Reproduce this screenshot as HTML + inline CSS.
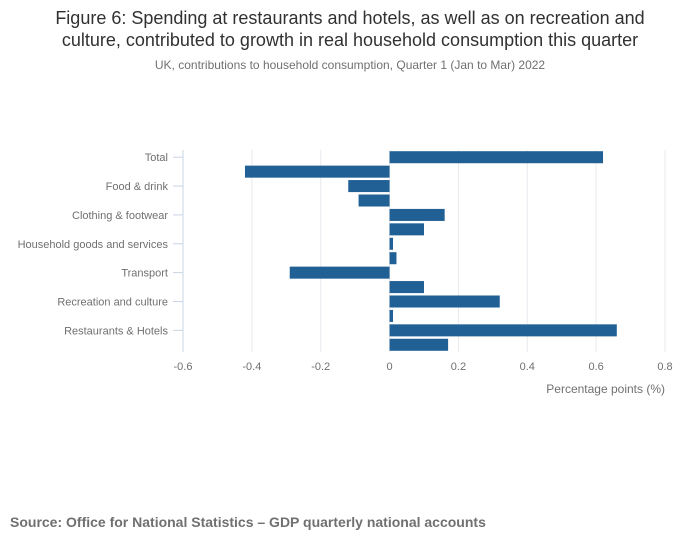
<!DOCTYPE html>
<html><head><meta charset="utf-8"><style>
body{margin:0;background:#fff;font-family:"Liberation Sans","DejaVu Sans",sans-serif;}
#wrap{position:relative;width:700px;height:549px;overflow:hidden;}
</style></head><body>
<div id="wrap">
<svg id="chart" width="700" height="549">
<text x="350" y="24" text-anchor="middle" font-size="18" fill="#323132">Figure 6: Spending at restaurants and hotels, as well as on recreation and</text>
<text x="350" y="46" text-anchor="middle" font-size="18" fill="#323132">culture, contributed to growth in real household consumption this quarter</text>
<text x="350" y="69" text-anchor="middle" font-size="12" fill="#707070">UK, contributions to household consumption, Quarter 1 (Jan to Mar) 2022</text>
<g id="grid"></g><g id="bars"></g><g id="labels"></g>
<text x="665" y="393" text-anchor="end" font-size="12" fill="#707070">Percentage points (%)</text>
<text x="10" y="527" font-size="14" font-weight="bold" fill="#707070">Source: Office for National Statistics – GDP quarterly national accounts</text>
</svg></div>
<script>
const categories=["Total","Alcohol & tobacco","Food & drink","Housing","Clothing & footwear","Health","Household goods and services","Communication","Transport","Education","Recreation and culture","Miscellaneous","Restaurants & Hotels","Net tourism"];
const values=[0.62,-0.42,-0.12,-0.09,0.16,0.10,0.01,0.02,-0.29,0.10,0.32,0.01,0.66,0.17];
const ticks=[-0.6,-0.4,-0.2,0,0.2,0.4,0.6,0.8];
const tickLabels=["-0.6","-0.4","-0.2","0","0.2","0.4","0.6","0.8"];
const NS="http://www.w3.org/2000/svg";
const x0=183,x1=665,vmin=-0.6,vmax=0.8,plotTop=150,plotBottom=352;
const xs=v=>x0+(v-vmin)/(vmax-vmin)*(x1-x0);
const step=(plotBottom-plotTop)/categories.length;
const ys=i=>plotTop+i*step;
function mk(t,a,p){const e=document.createElementNS(NS,t);for(const k in a)e.setAttribute(k,a[k]);p.appendChild(e);return e;}
const grid=document.getElementById('grid'),bars=document.getElementById('bars'),labels=document.getElementById('labels');
ticks.forEach((t,i)=>{
 const l=mk('line',{x1:xs(t),x2:xs(t),y1:plotTop,y2:plotBottom,stroke:i==0?'#c8d4e3':'#e6e9ee','stroke-width':1},grid);
 
 
 const tx=mk('text',{x:xs(t),y:370,'text-anchor':'middle','font-size':11,fill:'#707070'},labels);
 tx.textContent=tickLabels[i];
 
 
});
categories.forEach((c,i)=>{
 const v=values[i];
 const r=mk('rect',{x:Math.min(xs(0),xs(v)),y:ys(i)+1.2,width:Math.abs(xs(v)-xs(0)),height:step-2.4,fill:'#206095'},bars);
 
 
 if(i%2==0){
  const t=mk('text',{x:168,y:ys(i)+step/2+4,'text-anchor':'end','font-size':11,fill:'#707070'},labels);
  t.textContent=c;
  
  
  const tk=mk('line',{x1:173,x2:183,y1:ys(i)+step/2,y2:ys(i)+step/2,stroke:'#c8d4e3'},grid);
  
  
 }
});
</script>
</body></html>
